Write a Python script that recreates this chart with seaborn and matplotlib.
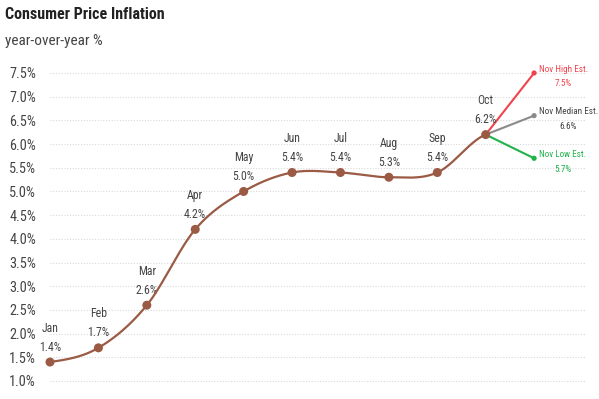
import numpy as np
import pandas as pd
import matplotlib
matplotlib.use("Agg")
import matplotlib.pyplot as plt
import seaborn as sns

months = ["Jan", "Feb", "Mar", "Apr", "May", "Jun", "Jul", "Aug", "Sep", "Oct"]
cpi = [1.4, 1.7, 2.6, 4.2, 5.0, 5.4, 5.4, 5.3, 5.4, 6.2]
est_labels = ["Nov High Est.", "Nov Median Est.", "Nov Low Est."]
est_values = [7.5, 6.6, 5.7]
yticks = [1.0, 1.5, 2.0, 2.5, 3.0, 3.5, 4.0, 4.5, 5.0, 5.5, 6.0, 6.5, 7.0, 7.5]

sns.set_theme(style="white")
plt.rcParams['font.family'] = ['Roboto Condensed', 'DejaVu Sans']

LINE = "#9a5a44"
TXT = "#444444"
est_colors = ["#f0434d", "#8a8a8a", "#1fb34a"]
est_text_colors = ["#f0434d", "#444444", "#1fb34a"]

df = pd.DataFrame({"x": np.arange(len(months)), "cpi": cpi, "month": months})

# Catmull-Rom smoothing of the series
def catmull_rom(y, n=40):
    y = np.asarray(y, float)
    p = np.concatenate([[y[0]], y, [y[-1]]])
    xs, ys = [], []
    for i in range(len(y) - 1):
        p0, p1, p2, p3 = p[i], p[i + 1], p[i + 2], p[i + 3]
        t = np.linspace(0, 1, n, endpoint=(i == len(y) - 2))
        yy = 0.5 * ((2 * p1) + (-p0 + p2) * t + (2 * p0 - 5 * p1 + 4 * p2 - p3) * t**2
                    + (-p0 + 3 * p1 - 3 * p2 + p3) * t**3)
        xs.append(i + t)
        ys.append(yy)
    return np.concatenate(xs), np.concatenate(ys)

sx, sy = catmull_rom(cpi)
smooth = pd.DataFrame({"x": sx, "y": sy})

fig = plt.figure(figsize=(5.99, 3.99), dpi=100)
W, H = 599, 399
ax = fig.add_axes([50 / W, 1 - 385 / H, (585 - 50) / W, (385 - 65) / H])

ppu_y = (381 - 73) / 6.5
ax.set_ylim(1.0 - 4 / ppu_y, 7.5 + 8 / ppu_y)
ax.set_xlim(0, 10 + 51 / 48.5)

for yv in yticks:
    ax.axhline(yv, color="#d9d9d9", lw=0.8, ls=(0, (1, 1.5)), zorder=0)

# estimate lines
nov = len(months)
for lab, val, col, tcol in zip(est_labels, est_values, est_colors, est_text_colors):
    ed = pd.DataFrame({"x": [nov - 1, nov], "y": [cpi[-1], val]})
    sns.lineplot(data=ed, x="x", y="y", ax=ax, color=col, lw=1.5, zorder=2)
    sns.scatterplot(x=[nov], y=[val], ax=ax, color=col, s=14, edgecolor="none",
                    zorder=3, clip_on=False)
    ax.annotate(f"{lab}\n{val:.1f}%", (nov, val), xytext=(3.5, -2.5),
                textcoords="offset points", ha="left", va="center",
                multialignment="center", fontsize=6.6, color=tcol,
                linespacing=1.8)

sns.lineplot(data=smooth, x="x", y="y", ax=ax, color=LINE, lw=1.6, zorder=4)
sns.scatterplot(data=df, x="x", y="cpi", ax=ax, color=LINE, s=42, edgecolor="none",
                zorder=5, clip_on=False)

for i, (m, v) in enumerate(zip(months, cpi)):
    ax.annotate(f"{m}\n{v:.1f}%", (i, v), xytext=(0, 6), textcoords="offset points",
                ha="center", va="bottom", fontsize=8.5, color=TXT, linespacing=1.6)

ax.set_yticks(yticks)
ax.set_yticklabels([f"{t:.1f}%" for t in yticks])
ax.set_xticks([])
ax.set_xlabel("")
ax.set_ylabel("")
ax.tick_params(axis="y", length=0, pad=10, labelsize=10.3, labelcolor=TXT)
for s in ax.spines.values():
    s.set_visible(False)

fig.text(5 / W, 1 - 19 / H, "Consumer Price Inflation", fontsize=11.5, fontweight="bold",
         color="#222222", va="baseline", ha="left")
fig.text(5 / W, 1 - 45 / H, "year-over-year %", fontsize=11, color=TXT,
         va="baseline", ha="left")

fig.savefig("out.png", dpi=100)
